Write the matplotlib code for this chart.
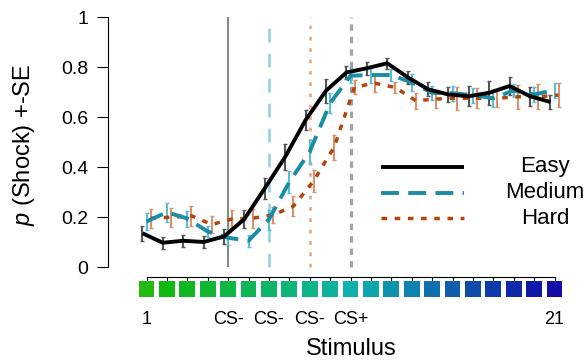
import numpy as np
import matplotlib
matplotlib.use("Agg")
import matplotlib.pyplot as plt
from matplotlib.colors import hsv_to_rgb

plt.rcParams['font.family'] = ['Liberation Sans', 'DejaVu Sans']
plt.rcParams['mathtext.fontset'] = 'custom'
plt.rcParams['mathtext.it'] = 'Liberation Sans:italic'
plt.rcParams['mathtext.rm'] = 'Liberation Sans'

# ---- data ----
stimulus = np.arange(1, 22)
easy = [0.135, 0.097, 0.105, 0.100, 0.122, 0.192, 0.315, 0.441, 0.588, 0.705, 0.778,
        0.795, 0.815, 0.759, 0.711, 0.690, 0.683, 0.697, 0.724, 0.683, 0.660]
easy_se = [0.030, 0.023, 0.023, 0.023, 0.030, 0.037, 0.043, 0.053, 0.040, 0.047, 0.025,
           0.025, 0.023, 0.025, 0.028, 0.030, 0.040, 0.047, 0.037, 0.037, 0.027]
medium = [0.182, 0.219, 0.194, 0.142, 0.117, 0.105, 0.190, 0.340, 0.461, 0.655, 0.765,
          0.768, 0.768, 0.738, 0.697, 0.695, 0.688, 0.675, 0.706, 0.690, 0.708]
medium_se = [0.033, 0.037, 0.032, 0.022, 0.030, 0.023, 0.040, 0.043, 0.047, 0.040, 0.030,
             0.033, 0.024, 0.033, 0.028, 0.030, 0.030, 0.033, 0.027, 0.030, 0.030]
hard = [0.195, 0.199, 0.205, 0.170, 0.192, 0.195, 0.208, 0.243, 0.345, 0.480, 0.720,
        0.735, 0.718, 0.665, 0.672, 0.675, 0.675, 0.675, 0.681, 0.681, 0.688]
hard_se = [0.038, 0.037, 0.040, 0.033, 0.035, 0.037, 0.033, 0.040, 0.043, 0.050, 0.027,
           0.033, 0.023, 0.033, 0.037, 0.047, 0.040, 0.036, 0.047, 0.050, 0.047]
series_names = ['Easy', 'Medium', 'Hard']
cs_lines = [5, 7, 9, 11]
tick_pos = [1, 5, 7, 9, 11, 21]
tick_labels = ['1', 'CS-', 'CS-', 'CS-', 'CS+', '21']
yticks = [0, 0.2, 0.4, 0.6, 0.8, 1]
ytick_labels = ['0', '0.2', '0.4', '0.6', '0.8', '1']

# ---- figure ----
W, H = 585, 360
fig = plt.figure(figsize=(W / 100, H / 100), dpi=100)

def frac(x0, y0, x1, y1):
    return [x0 / W, 1 - y1 / H, (x1 - x0) / W, (y1 - y0) / H]

ax = fig.add_axes(frac(108, 7, 575, 277))
px = 20.4
xl = (1 - (146.5 - 108) / px, 21 + (575 - 554.5) / px)
ax.set_xlim(*xl)
ax.set_ylim(-0.04, 1.04)

# vertical reference lines
vstyles = [dict(color='#8a8a8a', lw=1.5, ls='-'),
           dict(color='#8fd0de', lw=1.8, ls=(0, (5.5, 4.5))),
           dict(color='#e3a988', lw=1.9, ls=(0, (1.4, 2.9))),
           dict(color='#a3a3a3', lw=2.3, ls=(0, (2.0, 1.9)))]
for xv, st in zip(cs_lines, vstyles):
    ax.vlines(xv, 0, 1, zorder=1, **st)

offsets = [-0.2, 0.0, 0.2]
means = [easy, medium, hard]
ses = [easy_se, medium_se, hard_se]
line_cols = ['#000000', '#1a8ca6', '#b4440e']
err_cols = ['#555555', '#5cbdd5', '#d6936e']
line_styles = ['-', (0, (4.6, 2.4)), (0, (1.6, 2.2))]
line_w = [2.8, 2.8, 2.5]
zo = [6, 5, 4]

for m, s, off, lc, ec, ls, lw, z in zip(means, ses, offsets, line_cols, err_cols,
                                         line_styles, line_w, zo):
    xs = stimulus + off
    ax.errorbar(xs, m, yerr=s, fmt='none', ecolor=ec, elinewidth=1.5,
                capsize=1.4, capthick=1.0, zorder=3)
    ax.plot(xs, m, color=lc, ls=ls, lw=lw, zorder=z, solid_capstyle='butt',
            dash_capstyle='butt')

# axes styling
for sp in ['top', 'right']:
    ax.spines[sp].set_visible(False)
ax.spines['left'].set_bounds(0, 1)
ax.spines['bottom'].set_bounds(1, 21)
ax.spines['left'].set_linewidth(0.8)
ax.spines['bottom'].set_linewidth(0.8)
ax.set_yticks(yticks)
ax.set_yticklabels(ytick_labels)
ax.set_xticks(stimulus)
ax.set_xticklabels([])
ax.tick_params(axis='y', length=8, width=0.8, pad=6, labelsize=14)
ax.tick_params(axis='x', length=2.6, width=0.8, pad=2)

# legend (manual, centered labels)
leg_y = [0.4085, 0.3122, 0.2174]
for name, lc, ls, lw, yy in zip(series_names, line_cols, line_styles, line_w, leg_y):
    ax.plot([0.584, 0.7623], [yy, yy], transform=ax.transAxes, color=lc, ls=ls,
            lw=lw, solid_capstyle='butt', dash_capstyle='butt', clip_on=False)
    ax.text(0.9358, yy, name, transform=ax.transAxes, ha='center', va='center',
            fontsize=16)

# stimulus colour strip
ax2 = fig.add_axes(frac(108, 280.5, 575, 297))
ax2.set_xlim(*xl)
ax2.set_ylim(0, 1)
n = len(stimulus)
t = (stimulus - 1) / (n - 1)
hsv = np.stack([0.315 + 0.357 * t, np.full(n, 0.92), 0.73 - 0.07 * t], axis=1)
cols = hsv_to_rgb(hsv)
ax2.bar(stimulus, 1, width=0.77, bottom=0, color=cols, edgecolor='none')
for sp in ax2.spines.values():
    sp.set_visible(False)
ax2.set_yticks([])
ax2.set_xticks(tick_pos)
ax2.set_xticklabels(tick_labels)
ax2.tick_params(axis='x', length=0, pad=10, labelsize=13)

fig.text(351 / W, 1 - 349 / H, 'Stimulus', ha='center', va='center', fontsize=17)
fig.text(24 / W, 1 - 145 / H, r'$\mathit{p}$ (Shock) +-SE', ha='center', va='center',
         rotation=90, fontsize=17)

fig.savefig('out.png', dpi=100)
